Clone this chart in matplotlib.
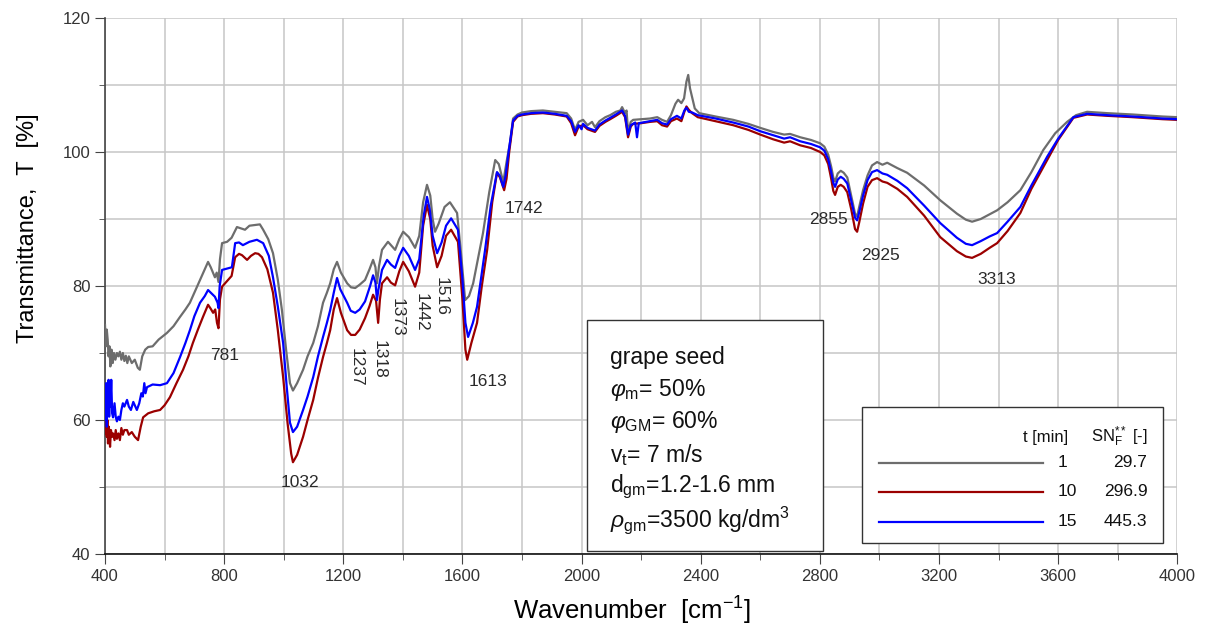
import matplotlib
matplotlib.use("Agg")
from matplotlib import pyplot as plt
from matplotlib.patches import Rectangle
from matplotlib.lines import Line2D
from matplotlib.ticker import MultipleLocator

plt.rcParams['font.family'] = ['Liberation Sans', 'DejaVu Sans']
plt.rcParams['mathtext.fontset'] = 'custom'
plt.rcParams['mathtext.rm'] = 'Liberation Sans'
plt.rcParams['mathtext.it'] = 'Liberation Sans:italic'
plt.rcParams['mathtext.bf'] = 'Liberation Sans:bold'

# t = 1 min (grey)
wn_1 = [400, 403, 406, 409, 412, 415, 418, 422, 426, 430, 435, 440, 445, 450, 455, 460, 465, 470,
        475, 480, 490, 500, 510, 517, 525, 535, 545, 560, 580, 608, 630, 652, 670, 685, 700, 719,
        735, 746, 755, 769, 775, 781, 786, 793, 810, 825, 843, 856, 870, 885, 904, 920, 931, 948,
        964, 980, 994, 1008, 1021, 1031, 1045, 1065, 1080, 1099, 1115, 1132, 1145, 1156, 1168,
        1179, 1192, 1213, 1226, 1240, 1255, 1273, 1288, 1300, 1308, 1313, 1320, 1330, 1350, 1362,
        1374, 1388, 1401, 1420, 1441, 1455, 1468, 1481, 1492, 1500, 1508, 1520, 1540, 1558, 1582,
        1595, 1609, 1622, 1636, 1652, 1669, 1690, 1710, 1722, 1737, 1748, 1760, 1770, 1785,
        1800, 1830, 1870, 1910, 1950, 1965, 1978, 1990, 2005, 2020, 2035, 2045, 2060, 2080, 2096,
        2115, 2130, 2136, 2146, 2151, 2156, 2165, 2173, 2200, 2230, 2254, 2270, 2287, 2300, 2315,
        2324, 2335, 2344, 2352, 2358, 2364, 2371, 2380, 2395, 2450, 2509, 2560, 2600, 2643, 2680,
        2700, 2734, 2770, 2801, 2815, 2828, 2838, 2845, 2851, 2860, 2870, 2880, 2892, 2905, 2918,
        2925, 2932, 2945, 2960, 2975, 2992, 3010, 3026, 3060, 3093, 3150, 3204, 3260, 3290, 3311,
        3340, 3370, 3395, 3430, 3473, 3510, 3550, 3590, 3630, 3660, 3697, 3730, 3765, 3850, 3950,
        4000]
t_1 = [74.2, 71.0, 73.5, 72.0, 69.5, 71.0, 68.0, 70.5, 68.5, 70.0, 69.0, 70.0, 69.5, 70.2, 69.0,
       70.0, 68.8, 69.6, 68.5, 69.5, 68.5, 69.0, 67.8, 67.5, 69.5, 70.5, 70.9, 71.0, 72.0, 73.0,
       74.0, 75.4, 76.5, 77.5, 79.0, 80.9, 82.5, 83.6, 82.8, 81.3, 82.0, 80.6, 84.0, 86.4, 86.6,
       87.2, 88.8, 88.6, 88.4, 89.0, 89.1, 89.2, 88.4, 87.0, 84.9, 81.0, 76.4, 70.5, 65.5, 64.4,
       65.5, 67.5, 69.5, 71.5, 74.0, 77.5, 79.0, 80.4, 82.5, 83.6, 82.0, 80.4, 79.8, 79.7, 80.2,
       80.9, 82.5, 83.9, 82.8, 80.4, 83.0, 85.4, 86.6, 86.0, 85.4, 87.0, 88.1, 87.3, 85.7, 87.5,
       92.5, 95.1, 93.5, 90.0, 88.1, 89.3, 91.8, 92.5, 90.9, 85.0, 77.9, 78.5, 80.4, 84.0, 87.9,
       94.0, 98.8, 98.2, 95.5, 98.5, 101.5, 105.0, 105.6,
       105.9, 106.1, 106.2, 106.0, 105.8, 105.0, 103.3, 104.5, 104.8, 104.0, 104.5, 103.7, 104.6,
       105.2, 105.5, 106.0, 106.2, 106.7, 105.8, 106.2, 103.0, 104.5, 104.8, 104.9, 105.0, 105.2,
       104.8, 104.5, 105.5, 107.2, 107.8, 107.3, 108.0, 110.5, 111.5, 109.5, 108.2, 106.5, 105.8,
       105.3, 104.8, 104.2, 103.6, 103.0, 102.6, 102.7, 102.2, 101.8, 101.3, 100.8, 99.6, 97.8,
       96.2, 95.6, 96.8, 97.2, 96.9, 96.2, 93.5, 90.8, 90.4, 91.8, 94.3, 96.5, 98.0, 98.5, 98.1,
       98.4, 97.6, 96.9, 95.0, 92.8, 90.8, 89.9, 89.6, 90.0, 90.7, 91.3, 92.5, 94.3, 97.0, 100.3,
       102.8, 104.5, 105.5, 106.0, 105.9, 105.8, 105.6, 105.3, 105.2]

# t = 10 min (dark red)
wn_10 = [400, 402, 404, 406, 408, 410, 413, 417, 420, 424, 427, 432, 436, 440, 445, 450, 455, 460,
         465, 474, 480, 490, 500, 511, 520, 528, 545, 565, 585, 600, 618, 640, 662, 680, 695, 712,
         729, 746, 755, 763, 770, 776, 781, 786, 793, 813, 825, 837, 850, 860, 877, 890, 904, 915,
         927, 945, 964, 980, 998, 1013, 1025, 1031, 1045, 1065, 1080, 1099, 1115, 1132, 1145, 1156,
         1168, 1179, 1192, 1213, 1226, 1240, 1255, 1273, 1288, 1300, 1310, 1317, 1323, 1330, 1347,
         1360, 1374, 1388, 1401, 1420, 1441, 1455, 1468, 1481, 1492, 1500, 1515, 1530, 1545, 1562,
         1585, 1600, 1610, 1616, 1630, 1649, 1665, 1683, 1700, 1716, 1726, 1740, 1748, 1757, 1770,
         1785, 1800, 1830, 1870, 1910, 1950, 1965, 1978, 1990, 2005, 2020, 2045, 2060, 2080, 2096,
         2115, 2136, 2146, 2156, 2165, 2173, 2200, 2230, 2254, 2270, 2287, 2300, 2320, 2335, 2345,
         2352, 2360, 2371, 2390, 2450, 2509, 2560, 2600, 2643, 2680, 2700, 2734, 2770, 2801, 2815,
         2828, 2838, 2845, 2851, 2860, 2870, 2880, 2892, 2905, 2918, 2925, 2932, 2945, 2960, 2975,
         2992, 3010, 3026, 3060, 3093, 3150, 3204, 3260, 3290, 3311, 3340, 3370, 3395, 3430, 3473,
         3510, 3563, 3600, 3651, 3697, 3765, 3850, 3950, 4000]
t_10 = [63.4, 58.0, 62.0, 57.5, 60.0, 56.5, 59.0, 56.0, 58.5, 57.5, 58.0, 57.0, 58.5, 57.2, 58.0,
        57.0, 58.8, 57.8, 58.5, 58.5, 57.8, 58.2, 57.5, 57.0, 59.0, 60.4, 61.0, 61.3, 61.5, 62.2,
        63.4, 65.5, 67.5, 69.5, 71.5, 73.5, 75.4, 77.2, 76.6, 76.0, 76.5, 74.5, 73.7, 78.0, 79.9,
        80.9, 81.5, 84.3, 84.8, 84.6, 83.9, 84.5, 84.9, 84.8, 84.3, 82.5, 79.0, 73.5, 66.4, 59.5,
        55.0, 53.7, 54.8, 57.5, 60.0, 63.0, 66.3, 69.4, 71.5, 73.4, 76.5, 78.2, 76.0, 73.4, 72.7,
        72.7, 73.5, 75.2, 77.0, 78.7, 77.8, 74.5, 78.0, 80.4, 81.3, 80.5, 80.1, 82.2, 83.6, 82.2,
        79.9, 82.0, 89.0, 92.1, 90.0, 86.0, 82.8, 84.5, 87.5, 88.4, 86.6, 78.0, 70.5, 69.0, 71.5,
        74.5, 80.0, 85.4, 92.5, 96.9, 96.2, 94.3, 96.0, 100.0, 104.5,
        105.3, 105.5, 105.7, 105.8, 105.6, 105.3, 104.3, 102.5, 103.8, 104.0, 103.4, 103.0, 103.9,
        104.5, 104.9, 105.4, 106.0, 105.2, 102.2, 103.8, 104.2, 104.3, 104.5, 104.6, 104.0, 103.8,
        104.6, 105.0, 104.6, 106.0, 106.8, 106.3, 105.8, 105.2, 104.6, 104.0, 103.3, 102.6, 101.9,
        101.4, 101.6, 101.0, 100.6, 100.0, 99.5, 98.2, 96.0, 94.2, 93.6, 94.8, 95.1, 94.8, 94.0,
        91.5, 88.5, 88.1, 89.5, 92.3, 94.8, 95.8, 96.1, 95.6, 95.4, 94.5, 93.3, 90.5, 87.3, 85.2,
        84.4, 84.2, 84.8, 85.7, 86.4, 88.2, 90.9, 94.5, 98.8, 101.8, 105.1, 105.6, 105.4, 105.2,
        104.9, 104.8]

# t = 15 min (blue)
wn_15 = [400, 402, 404, 406, 408, 410, 412, 414, 416, 418, 421, 424, 427, 432, 436, 440, 445, 450,
         455, 460, 465, 474, 480, 487, 495, 507, 515, 522, 527, 532, 536, 541, 560, 585, 608, 630,
         652, 670, 685, 700, 719, 735, 746, 760, 769, 778, 781, 785, 793, 810, 826, 837, 850, 863,
         885, 910, 931, 950, 964, 980, 998, 1010, 1021, 1031, 1045, 1065, 1080, 1099, 1115, 1132,
         1145, 1156, 1168, 1179, 1190, 1213, 1225, 1240, 1255, 1273, 1290, 1300, 1308, 1313, 1318,
         1330, 1347, 1360, 1374, 1388, 1401, 1420, 1441, 1455, 1470, 1481, 1490, 1500, 1515, 1530,
         1545, 1562, 1585, 1600, 1610, 1619, 1635, 1649, 1662, 1676, 1695, 1716, 1725, 1737, 1745,
         1755, 1770, 1785, 1800, 1830, 1870, 1910, 1950, 1965, 1978, 1990, 2000, 2005, 2020, 2045,
         2060, 2080, 2096, 2115, 2136, 2146, 2156, 2165, 2180, 2186, 2192, 2230, 2254, 2270, 2287,
         2300, 2320, 2335, 2345, 2352, 2360, 2371, 2390, 2450, 2509, 2560, 2600, 2643, 2680, 2700,
         2734, 2770, 2801, 2815, 2828, 2838, 2845, 2851, 2860, 2870, 2880, 2892, 2905, 2918, 2925,
         2932, 2945, 2960, 2975, 2992, 3010, 3026, 3060, 3093, 3150, 3204, 3260, 3290, 3311, 3340,
         3370, 3395, 3430, 3473, 3510, 3563, 3600, 3651, 3697, 3765, 3850, 3950, 4000]
t_15 = [64.9, 60.0, 65.5, 59.0, 63.0, 61.5, 66.0, 60.5, 64.0, 62.0, 66.0, 61.0, 60.4, 62.5, 60.5,
        59.8, 60.5, 60.0, 61.5, 62.5, 62.0, 63.0, 62.0, 61.5, 62.7, 61.5, 62.5, 64.0, 63.5, 65.5,
        64.0, 64.9, 65.3, 65.2, 65.5, 67.0, 69.4, 71.5, 73.4, 75.5, 77.5, 78.5, 79.4, 78.8, 78.4,
        77.5, 76.7, 80.0, 82.4, 82.6, 82.8, 86.4, 86.5, 86.1, 86.6, 86.9, 86.4, 84.5, 81.3, 77.0,
        71.5, 65.0, 59.6, 58.2, 59.0, 61.5, 63.5, 66.4, 69.5, 72.4, 74.5, 76.4, 79.0, 81.2, 79.5,
        77.5, 76.3, 76.0, 76.5, 77.7, 80.0, 81.6, 80.5, 77.9, 79.5, 82.4, 83.9, 83.2, 82.7, 84.5,
        85.7, 84.5, 82.4, 84.0, 90.5, 93.3, 91.5, 87.5, 84.9, 86.5, 89.0, 90.1, 88.4, 81.0, 74.5,
        72.4, 74.5, 76.9, 81.0, 85.4, 92.0, 97.0, 96.5, 94.8, 96.5, 100.0, 104.7,
        105.4, 105.6, 105.8, 105.9, 105.7, 105.4, 104.6, 103.0, 104.0, 103.4, 104.2, 103.6, 103.2,
        104.1, 104.7, 105.1, 105.6, 106.2, 105.4, 102.6, 104.0, 104.4, 102.2, 104.3, 104.6, 104.8,
        104.3, 104.1, 104.9, 105.4, 105.0, 106.2, 106.6, 106.0, 105.9, 105.5, 105.0, 104.4, 103.8,
        103.1, 102.5, 102.0, 102.2, 101.6, 101.2, 100.7, 100.2, 98.9, 97.0, 95.4, 94.8, 95.9, 96.3,
        96.0, 95.3, 92.8, 90.2, 89.8, 91.0, 93.5, 95.8, 97.0, 97.3, 96.8, 96.6, 95.7, 94.6, 92.0,
        89.4, 87.2, 86.3, 86.1, 86.7, 87.4, 87.9, 89.6, 91.8, 95.0, 99.3, 102.0, 105.2, 105.7,
        105.5, 105.3, 105.0, 104.9]

series_t = ['1', '10', '15']
series_sn = ['29.7', '296.9', '445.3']
colors = ['#6d6d6d', '#9b0000', '#0000ff']

peak_labels = ['781', '1032', '1237', '1318', '1373', '1442', '1516', '1613', '1742',
               '2855', '2925', '3313']
peak_x = [800, 1055, 1243, 1320, 1381, 1461, 1528, 1686, 1807, 2828, 3002, 3395]
peak_y = [69.6, 50.7, 67.9, 69.1, 75.4, 76.0, 78.4, 65.8, 91.6, 90.0, 84.6, 81.0]
peak_rot = [0, 0, -90, -90, -90, -90, -90, 0, 0, 0, 0, 0]

info_lines = ['grape seed',
              r'$\varphi_{\mathrm{m}}$= 50%',
              r'$\varphi_{\mathrm{GM}}$= 60%',
              r'v$_{\mathrm{t}}$= 7 m/s',
              r'd$_{\mathrm{gm}}$=1.2-1.6 mm',
              r'$\rho_{\mathrm{gm}}$=3500 kg/dm$^{3}$']

fig = plt.figure(figsize=(12.11, 6.32), dpi=100)
ax = fig.add_axes([0.0867, 0.1234, 0.8855, 0.8481])

lines = []
for wn, tt, c in zip([wn_1, wn_10, wn_15], [t_1, t_10, t_15], colors):
    ln, = ax.plot(wn, tt, color=c, lw=1.6, zorder=3)
    lines.append(ln)

ax.set_xlim(400, 4000)
ax.set_ylim(40, 120)
ax.xaxis.set_major_locator(MultipleLocator(400))
ax.xaxis.set_minor_locator(MultipleLocator(200))
ax.yaxis.set_major_locator(MultipleLocator(20))
ax.yaxis.set_minor_locator(MultipleLocator(10))
ax.grid(True, which='both', color='#c6c6c6', lw=1.1, zorder=0)
ax.set_axisbelow(True)
ax.tick_params(which='major', direction='out', length=7, color='#444444',
               labelsize=12, labelcolor='#333333')
ax.tick_params(which='minor', direction='out', length=4, color='#444444')
for s in ['top', 'right']:
    ax.spines[s].set_visible(False)
ax.spines['left'].set_color('#444444')
ax.spines['bottom'].set_color('#111111')
ax.spines['left'].set_linewidth(1.2)
ax.spines['bottom'].set_linewidth(1.2)

ax.set_xlabel('Wavenumber  [cm$^{-1}$]', fontsize=18.5)
ax.xaxis.set_label_coords(0.4916, -0.076)
ax.set_ylabel('Transmittance,  T  [%]', fontsize=17)
ax.yaxis.set_label_coords(-0.062, 0.608)

for lab, x, y, r in zip(peak_labels, peak_x, peak_y, peak_rot):
    ax.text(x, y, lab, rotation=r, ha='center', va='center', fontsize=12.5,
            color='#2a2a2a', zorder=4)

# info box
ax.add_patch(Rectangle((0.4496, 0.0056), 0.2202, 0.431, transform=ax.transAxes,
                       facecolor='white', edgecolor='#333333', lw=1.0, zorder=5))
info_y = [0.3675, 0.306, 0.246, 0.185, 0.125, 0.063]
for txt, y in zip(info_lines, info_y):
    ax.text(0.471, y, txt, transform=ax.transAxes, ha='left', va='center',
            fontsize=16.5, color='#111111', zorder=6)

# legend table
ax.add_patch(Rectangle((0.706, 0.0205), 0.281, 0.2535, transform=ax.transAxes,
                       facecolor='white', edgecolor='#333333', lw=1.0, zorder=5))
ax.text(0.856, 0.218, 't [min]', transform=ax.transAxes, ha='left', va='center',
        fontsize=12, color='#111111', zorder=6)
ax.text(0.972, 0.218, r'SN$_{\mathrm{F}}^{**}$ [-]', transform=ax.transAxes, ha='right',
        va='center', fontsize=12, color='#111111', zorder=6)
row_y = [0.170, 0.116, 0.060]
for ln, lab_t, lab_sn, y in zip(lines, series_t, series_sn, row_y):
    ax.add_line(Line2D([0.722, 0.875], [y, y], transform=ax.transAxes,
                       color=ln.get_color(), lw=1.6, zorder=6))
    ax.text(0.888, y, lab_t, transform=ax.transAxes, ha='left', va='center',
            fontsize=12.5, color='#111111', zorder=6)
    ax.text(0.972, y, lab_sn, transform=ax.transAxes, ha='right', va='center',
            fontsize=12.5, color='#111111', zorder=6)

fig.savefig('out.png', dpi=100)
